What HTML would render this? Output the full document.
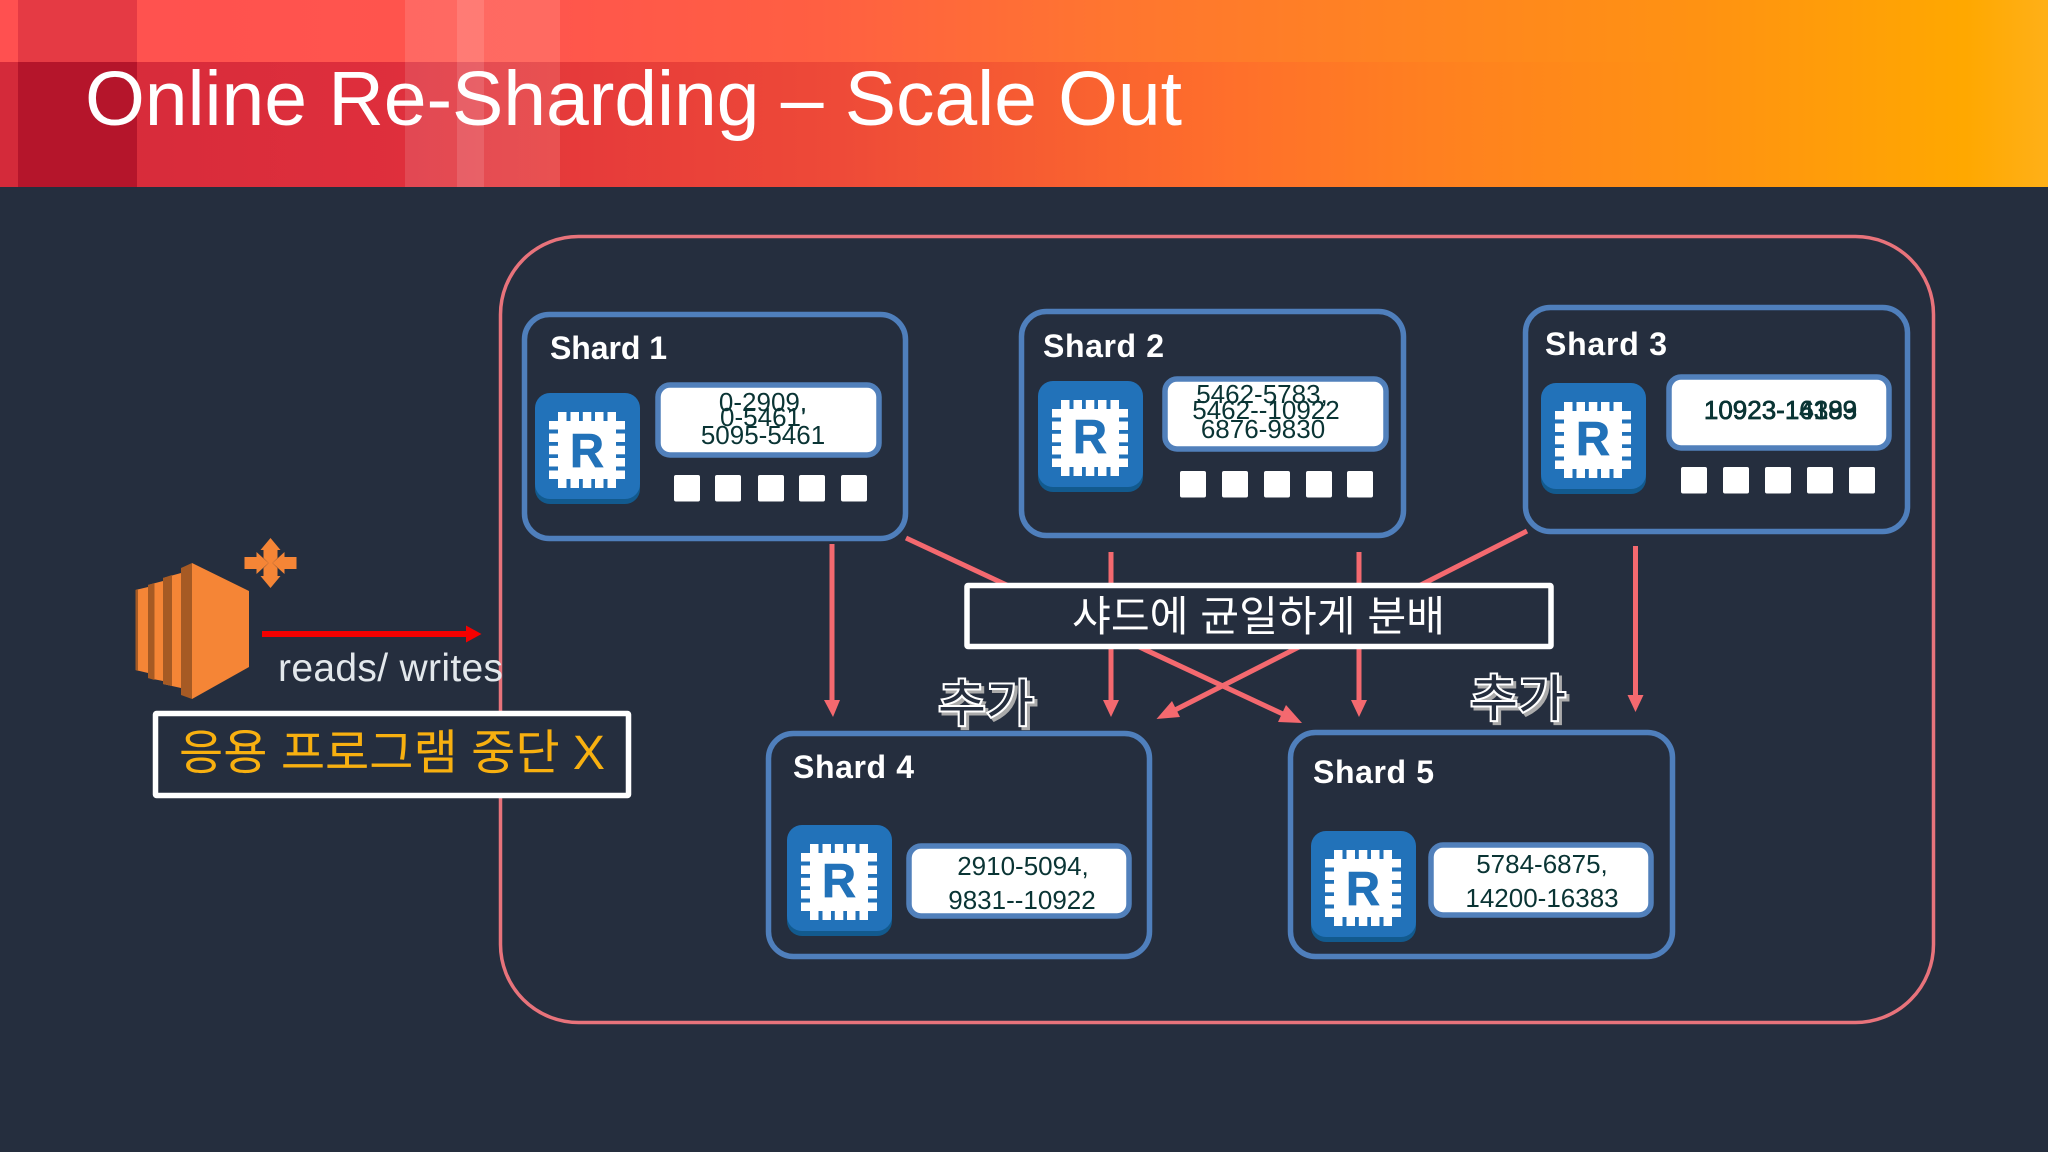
<!DOCTYPE html>
<html>
<head>
<meta charset="utf-8">
<style>
html,body{margin:0;padding:0;background:#252e3e;width:2048px;height:1152px;overflow:hidden}
svg{display:block}
text{font-family:"Liberation Sans","Noto Sans CJK KR",sans-serif}
.st{font-weight:bold;font-size:32px;fill:#fff}
.rg{font-size:26px;fill:#0a3434;text-anchor:middle}
.rr{font-weight:bold;font-size:47px;fill:#2272b9;text-anchor:middle;stroke:#2272b9;stroke-width:.8}
.box{fill:#252e3e;stroke:#4f7fbc;stroke-width:5.5}
.rb{fill:#fff;stroke:#5180bb;stroke-width:5.5}
.sq{fill:#fff}
.ln{stroke:#f4696f;stroke-width:5;fill:none}
.hd{fill:#f4696f}
</style>
</head>
<body>
<svg width="2048" height="1152" viewBox="0 0 2048 1152" xmlns="http://www.w3.org/2000/svg">
<defs>
<linearGradient id="gt" x1="0" x2="1" y1="0" y2="0">
<stop offset="0" stop-color="#ff5050"/><stop offset=".27" stop-color="#ff564c"/><stop offset=".4" stop-color="#ff5f42"/>
<stop offset=".54" stop-color="#ff7530"/><stop offset=".7" stop-color="#ff8520"/><stop offset=".83" stop-color="#ff9212"/>
<stop offset=".96" stop-color="#ffa800"/><stop offset="1" stop-color="#ffb018"/>
</linearGradient>
<linearGradient id="gb" x1="0" x2="1" y1="0" y2="0">
<stop offset="0" stop-color="#d42a3a"/><stop offset=".2" stop-color="#df2f3c"/><stop offset=".27" stop-color="#e5393a"/><stop offset=".41" stop-color="#ee4a38"/>
<stop offset=".6" stop-color="#ff6f2b"/><stop offset=".7" stop-color="#ff8020"/><stop offset=".83" stop-color="#ff9212"/>
<stop offset=".96" stop-color="#ffa800"/><stop offset="1" stop-color="#ffb018"/>
</linearGradient>
<symbol id="ic" width="105" height="112" viewBox="0 0 105 112">
<rect x="0" y="5" width="105" height="106" rx="15" fill="#125a8e"/>
<rect x="0" y="0" width="105" height="106" rx="15" fill="#2272b9"/>
<g fill="#fff" transform="translate(14,19)">
<rect x="9" y="9" width="58" height="58"/>
<rect x="9" y="0" width="8.5" height="76"/><rect x="21.5" y="0" width="8.5" height="76"/><rect x="33.8" y="0" width="8.5" height="76"/><rect x="46" y="0" width="8.5" height="76"/><rect x="58.5" y="0" width="8.5" height="76"/>
<rect x="0" y="9" width="76" height="8.5"/><rect x="0" y="21.5" width="76" height="8.5"/><rect x="0" y="33.8" width="76" height="8.5"/><rect x="0" y="46" width="76" height="8.5"/><rect x="0" y="58.5" width="76" height="8.5"/>
</g>
</symbol>
</defs>

<rect width="2048" height="1152" fill="#252e3e"/>

<!-- header -->
<rect x="0" y="0" width="2048" height="62" fill="url(#gt)"/>
<rect x="0" y="62" width="2048" height="125" fill="url(#gb)"/>
<rect x="18" y="0" width="119" height="62" fill="#e53a44"/>
<rect x="18" y="62" width="119" height="125" fill="#b5152b"/>
<rect x="405" y="0" width="155" height="187" fill="#fff" fill-opacity=".12"/>
<rect x="457" y="0" width="27" height="187" fill="#fff" fill-opacity=".12"/>
<text x="85" y="125" font-size="77" fill="#fff" textLength="1097" lengthAdjust="spacing">Online Re-Sharding – Scale Out</text>

<!-- outer group -->
<rect x="500.5" y="236.5" width="1433" height="786" rx="78" fill="none" stroke="#e8737b" stroke-width="3.5"/>

<!-- connectors -->
<line class="ln" x1="832" y1="544" x2="832" y2="702"/><polygon class="hd" points="824,700 840,700 833,717"/>
<line class="ln" x1="1111" y1="552" x2="1111" y2="702"/><polygon class="hd" points="1103,700 1119,700 1111,717"/>
<line class="ln" x1="1359" y1="552" x2="1359" y2="702"/><polygon class="hd" points="1351,700 1367,700 1359,717"/>
<line class="ln" x1="1635.5" y1="546" x2="1635.5" y2="697"/><polygon class="hd" points="1627.5,695 1643.5,695 1635.5,712"/>
<line class="ln" x1="906" y1="538" x2="1285" y2="715"/><polygon class="hd" points="1302,723 1278,722 1286,705"/>
<line class="ln" x1="1527" y1="531" x2="1175" y2="710"/><polygon class="hd" points="1156.5,719 1180,717 1172,701"/>

<!-- Shard 1 -->
<rect class="box" x="524.5" y="314.5" width="381" height="224" rx="25"/>
<text class="st" x="550" y="359" textLength="117">Shard 1</text>
<use href="#ic" x="535" y="393" width="105" height="112"/>
<text class="rr" x="587" y="467">R</text>
<rect class="rb" x="658" y="385" width="221" height="70" rx="12"/>
<text class="rg" x="763" y="411">0-2909,</text>
<text class="rg" x="763" y="426">0-5461'</text>
<text class="rg" x="763" y="444">5095-5461</text>
<rect class="sq" x="674" y="475" width="26" height="26.5" rx="2"/><rect class="sq" x="715" y="475" width="26" height="26.5" rx="2"/><rect class="sq" x="758" y="475" width="26" height="26.5" rx="2"/><rect class="sq" x="799" y="475" width="26" height="26.5" rx="2"/><rect class="sq" x="841" y="475" width="26" height="26.5" rx="2"/>

<!-- Shard 2 -->
<rect class="box" x="1021.5" y="311.5" width="382" height="224" rx="25"/>
<text class="st" x="1043" y="357" textLength="121">Shard 2</text>
<use href="#ic" x="1038" y="381" width="105" height="112"/>
<text class="rr" x="1090" y="453">R</text>
<rect class="rb" x="1165" y="379" width="221" height="70" rx="12"/>
<text class="rg" x="1262" y="403">5462-5783,</text>
<text class="rg" x="1266" y="419">5462--10922</text>
<text class="rg" x="1263" y="438">6876-9830</text>
<rect class="sq" x="1180" y="471" width="26" height="26.5" rx="2"/><rect class="sq" x="1222" y="471" width="26" height="26.5" rx="2"/><rect class="sq" x="1264" y="471" width="26" height="26.5" rx="2"/><rect class="sq" x="1306" y="471" width="26" height="26.5" rx="2"/><rect class="sq" x="1347" y="471" width="26" height="26.5" rx="2"/>

<!-- Shard 3 -->
<rect class="box" x="1525.5" y="307.5" width="382" height="224" rx="25"/>
<text class="st" x="1545" y="355" textLength="122">Shard 3</text>
<use href="#ic" x="1541" y="383" width="105" height="112"/>
<text class="rr" x="1593" y="455">R</text>
<rect class="rb" x="1669" y="377" width="220" height="71" rx="12"/>
<text class="rg" x="1780.5" y="419" stroke="#0a3434" stroke-width=".6">10923-16383</text>
<text class="rg" x="1780.5" y="419" stroke="#0a3434" stroke-width=".6">10923-14199</text>
<rect class="sq" x="1681" y="467" width="26" height="26.5" rx="2"/><rect class="sq" x="1723" y="467" width="26" height="26.5" rx="2"/><rect class="sq" x="1765" y="467" width="26" height="26.5" rx="2"/><rect class="sq" x="1807" y="467" width="26" height="26.5" rx="2"/><rect class="sq" x="1849" y="467" width="26" height="26.5" rx="2"/>

<!-- Shard 4 -->
<rect class="box" x="768.5" y="733.5" width="381" height="223" rx="25"/>
<text class="st" x="793" y="778" textLength="121">Shard 4</text>
<use href="#ic" x="787" y="825" width="105" height="112"/>
<text class="rr" x="839" y="897">R</text>
<rect class="rb" x="909" y="846" width="220" height="70" rx="12"/>
<text class="rg" x="1023" y="875">2910-5094,</text>
<text class="rg" x="1022" y="909">9831--10922</text>

<!-- Shard 5 -->
<rect class="box" x="1290.5" y="732.5" width="382" height="224" rx="25"/>
<text class="st" x="1313" y="783" textLength="121">Shard 5</text>
<use href="#ic" x="1311" y="831" width="105" height="112"/>
<text class="rr" x="1363" y="905">R</text>
<rect class="rb" x="1431" y="845" width="220" height="70" rx="12"/>
<text class="rg" x="1542" y="873">5784-6875,</text>
<text class="rg" x="1542" y="907">14200-16383</text>

<!-- distribution label -->
<rect x="967" y="585.5" width="584" height="61" rx="1" fill="#252e3e" stroke="#fff" stroke-width="5.5"/>
<text x="1072" y="631" font-size="42" fill="#fff" textLength="373" lengthAdjust="spacingAndGlyphs">샤드에 균일하게 분배</text>

<!-- added labels -->
<text x="941" y="724" font-size="50" fill="#aaa" stroke="#aaa" stroke-width="4" textLength="96" lengthAdjust="spacingAndGlyphs">추가</text>
<text x="938" y="721" font-size="50" fill="#252e3e" stroke="#fff" stroke-width="4" paint-order="stroke" textLength="96" lengthAdjust="spacingAndGlyphs">추가</text>
<text x="1473" y="719" font-size="50" fill="#aaa" stroke="#aaa" stroke-width="4" textLength="96" lengthAdjust="spacingAndGlyphs">추가</text>
<text x="1470" y="716" font-size="50" fill="#252e3e" stroke="#fff" stroke-width="4" paint-order="stroke" textLength="96" lengthAdjust="spacingAndGlyphs">추가</text>

<!-- EC2 icon -->
<polygon points="135.5,590 148,587 148,673 135.5,670" fill="#f58536"/>
<polygon points="135.5,590 138,589 138,671 135.5,670" fill="#a65a24"/>
<polygon points="148,585 163,581 163,681 148,678" fill="#f58536"/>
<polygon points="148,585 154.5,583 154.5,680 148,678" fill="#a65a24"/>
<polygon points="163,578 181,573 181,688 163,684" fill="#f58536"/>
<polygon points="163,578 172,575 172,686 163,684" fill="#a65a24"/>
<polygon points="181,568 192,563 192,699 181,695" fill="#a65a24"/>
<polygon points="192,563 249,591 249,667 192,699" fill="#f58536"/>
<g fill="#f58536" transform="translate(270.5,563)">
<polygon points="0,-25 10,-13 7,-13 7,-5 0,2 -7,-5 -7,-13 -10,-13"/>
<polygon points="0,25 10,13 7,13 7,5 0,-2 -7,5 -7,13 -10,13"/>
<polygon points="-26,-6 -14,-6 -14,-11 -2,0 -14,11 -14,6 -26,6"/>
<polygon points="26,-6 14,-6 14,-11 2,0 14,11 14,6 26,6"/>
</g>

<!-- red arrow -->
<rect x="262" y="631" width="205" height="6" fill="#f40000"/>
<polygon points="466,625.5 481.5,634 466,642.5" fill="#f40000"/>
<text x="278" y="681" font-size="39" fill="#e3e8ec" textLength="225">reads/ writes</text>

<!-- app label -->
<rect x="155.5" y="713.5" width="473" height="82" rx="1" fill="#252e3e" stroke="#fff" stroke-width="5.5"/>
<text x="179" y="769" font-size="48" fill="#f8b010" textLength="426" lengthAdjust="spacingAndGlyphs">응용 프로그램 중단 X</text>
</svg>
</body>
</html>
